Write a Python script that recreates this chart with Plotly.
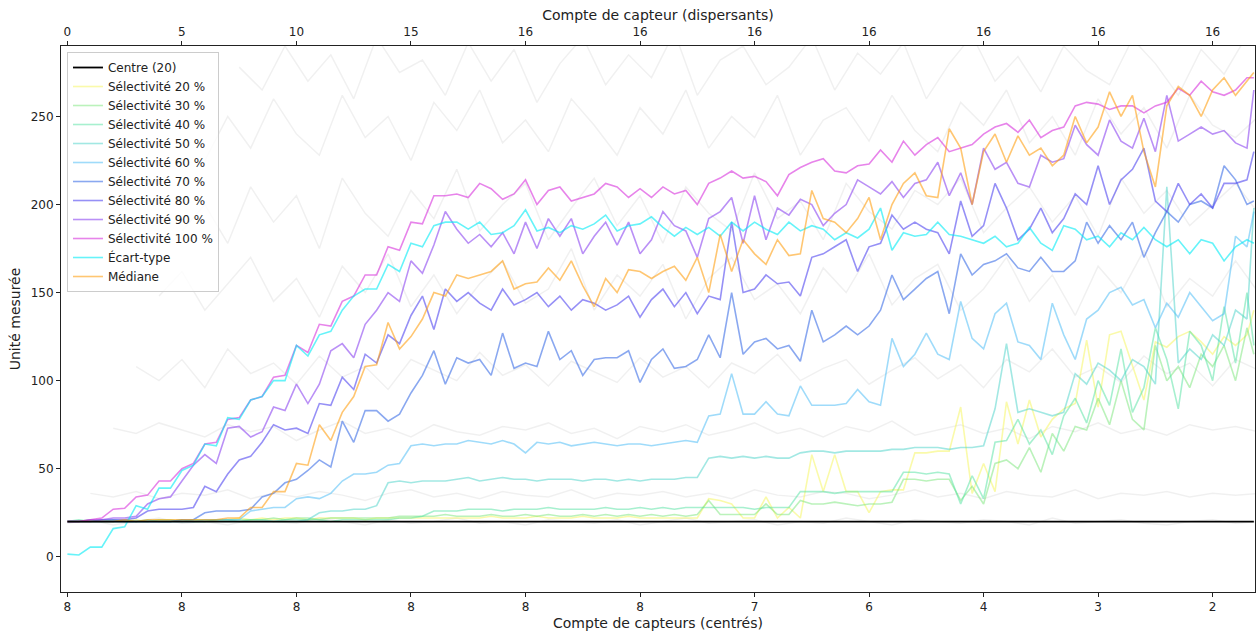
import plotly.graph_objects as go

# sample positions along the run (0.5 step); last sample sits on the right edge
x = [i * 0.5 for i in range(104)] + [51.8]

top_ticks = [0, 5, 10, 15, 20, 25, 30, 35, 40, 45, 50]
top_labels = ["0", "5", "10", "15", "16", "16", "16", "16", "16", "16", "16"]
bottom_labels = ["8", "8", "8", "8", "8", "8", "7", "6", "4", "3", "2"]

centre = [20] * len(x)

sel_20 = [20, 20, 20, 21, 20, 20, 21, 20, 21, 20, 21, 21, 20, 21, 21, 22, 21, 22, 21, 22,
          22, 21, 22, 22, 22, 22, 21, 22, 22, 22, 22, 22, 22, 22, 22, 22,
          22, 23, 22, 22, 22, 23, 22, 22, 22, 23, 22, 22, 22, 23, 22, 22, 22,
          22, 22, 22, 33, 32, 30, 22, 22, 34, 22, 28, 22, 58, 37, 58, 37, 37, 25,
          37, 38, 38, 59, 59, 60, 60, 85, 36, 53, 37, 88, 64, 89, 68, 78, 84,
          87, 123, 85, 126, 128, 108, 89, 122, 119, 125, 128, 122, 115, 125, 120, 126,
          140]
sel_30 = [20, 20, 21, 20, 20, 21, 20, 20, 21, 21, 20, 21, 21, 21, 21, 21, 21, 21, 22, 21,
          22, 22, 21, 22, 22, 22, 22, 22, 22, 23, 23, 23, 23, 24, 23, 23,
          23, 24, 23, 23, 24, 23, 24, 23, 23, 24, 23, 24, 23, 24, 23, 24, 23,
          24, 23, 24, 32, 24, 24, 24, 24, 30, 24, 24, 32, 30, 30, 31, 30, 29, 30,
          30, 31, 44, 44, 43, 44, 44, 32, 40, 30, 53, 55, 50, 62, 48, 70, 60,
          74, 72, 90, 75, 100, 78, 72, 120, 100, 108, 96, 115, 108, 120, 100, 130,
          115]
sel_40 = [20, 21, 20, 20, 21, 20, 20, 21, 20, 20, 21, 20, 20, 21, 21, 20, 21, 21, 20, 21,
          21, 21, 21, 20, 21, 21, 21, 21, 21, 22, 22, 23, 26, 26, 26, 27,
          27, 27, 26, 27, 27, 27, 28, 27, 27, 27, 27, 28, 27, 27, 28, 27, 28,
          27, 28, 28, 28, 28, 28, 28, 27, 28, 28, 28, 37, 37, 37, 36, 37, 37, 37,
          37, 37, 48, 48, 47, 48, 47, 30, 46, 33, 65, 66, 78, 64, 72, 58, 80,
          90, 76, 100, 86, 118, 82, 96, 130, 112, 84, 128, 120, 100, 142, 110, 150,
          120]
sel_50 = [20, 20, 20, 20, 20, 20, 20, 20, 20, 20, 20, 20, 20, 20, 20, 20, 20, 20, 20, 20,
          20, 21, 25, 26, 26, 27, 27, 29, 42, 43, 42, 43, 43, 43, 44, 45,
          43, 44, 45, 44, 44, 43, 44, 44, 44, 43, 44, 44, 43, 44, 43, 44, 44,
          44, 45, 45, 56, 57, 56, 57, 56, 57, 56, 56, 59, 60, 60, 59, 60, 60, 60,
          60, 61, 61, 62, 62, 62, 61, 62, 62, 63, 84, 121, 82, 84, 82, 80, 82,
          104, 98, 110, 106, 100, 112, 108, 98, 210, 110, 118, 112, 126, 120, 140, 135,
          198]
sel_60 = [20, 20, 20, 20, 20, 20, 20, 20, 20, 20, 20, 20, 21, 21, 21, 21, 26, 27, 28, 28,
          33, 34, 33, 36, 43, 47, 47, 48, 52, 53, 63, 64, 63, 64, 64, 66,
          65, 64, 66, 64, 59, 65, 64, 65, 63, 64, 65, 64, 63, 64, 64, 63, 64,
          65, 66, 65, 80, 81, 104, 81, 81, 88, 81, 80, 97, 86, 86, 86, 87, 95, 88,
          86, 124, 108, 115, 127, 115, 112, 145, 124, 118, 138, 144, 122, 120, 112, 144, 126,
          112, 135, 140, 150, 153, 143, 146, 130, 144, 136, 150, 142, 134, 138, 182, 176,
          196]
sel_70 = [20, 20, 20, 20, 20, 20, 20, 20, 20, 20, 21, 21, 25, 26, 26, 26, 27, 34, 36, 42,
          44, 49, 55, 51, 77, 65, 83, 83, 77, 81, 93, 103, 117, 98, 113, 110,
          112, 103, 127, 107, 110, 108, 128, 112, 117, 103, 112, 113, 113, 117, 99, 112, 118,
          107, 108, 112, 126, 113, 150, 115, 122, 124, 118, 120, 111, 140, 122, 126, 131, 126, 131,
          140, 160, 146, 152, 158, 162, 138, 172, 160, 166, 168, 172, 164, 162, 170, 162, 162,
          168, 190, 178, 188, 180, 190, 170, 184, 196, 190, 200, 202, 198, 222, 214, 200,
          202]
sel_80 = [20, 20, 20, 21, 21, 21, 22, 26, 27, 27, 27, 28, 40, 37, 47, 55, 57, 65, 75, 72,
          73, 70, 87, 86, 102, 95, 115, 110, 126, 121, 137, 148, 129, 152, 145, 150,
          144, 140, 152, 143, 146, 150, 142, 148, 140, 146, 144, 140, 143, 148, 136, 146, 152,
          142, 150, 138, 148, 146, 190, 150, 152, 160, 155, 156, 148, 170, 172, 176, 180, 162, 176,
          178, 194, 186, 190, 186, 184, 172, 202, 182, 188, 212, 198, 180, 186, 198, 184, 192,
          206, 200, 222, 200, 214, 220, 232, 202, 196, 212, 200, 206, 198, 212, 212, 214,
          230]
sel_90 = [20, 20, 21, 21, 22, 22, 23, 30, 33, 34, 43, 52, 58, 53, 73, 74, 68, 71, 85, 83,
          98, 87, 98, 117, 121, 113, 132, 140, 150, 145, 168, 161, 177, 196, 186, 178,
          183, 176, 184, 172, 190, 175, 192, 182, 192, 172, 182, 190, 177, 190, 172, 180, 196,
          188, 185, 170, 192, 196, 204, 178, 205, 180, 198, 194, 203, 200, 188, 195, 200, 214, 210,
          206, 213, 204, 212, 214, 224, 205, 218, 200, 232, 220, 224, 212, 210, 228, 224, 226,
          245, 234, 228, 248, 236, 232, 249, 230, 262, 236, 240, 244, 240, 242, 235, 232,
          265]
sel_100 = [20, 20, 21, 22, 27, 27.5, 34, 35, 43, 43, 50, 53, 64, 65, 78, 79, 89, 91, 102, 103,
           120, 116, 132, 131, 145, 148, 160, 160, 176, 174, 190, 189, 205, 205, 206, 204,
           212, 209, 203, 206, 214, 200, 208, 210, 202, 204, 206, 212, 210, 204, 209, 204, 210,
           206, 208, 200, 212, 215, 219, 215, 216, 213, 205, 217, 221, 224, 226, 219, 218, 222, 223,
           231, 224, 236, 228, 234, 238, 230, 232, 234, 240, 244, 246, 241, 248, 238, 242, 244,
           256, 258, 257, 254, 256, 256, 252, 256, 258, 266, 262, 270, 264, 262, 265, 272,
           272]
ecart_type = [1.5, 1, 5.5, 5.5, 16, 17, 29, 27, 39, 39, 49, 52, 64, 63, 79, 78, 89, 91, 100, 100,
              120, 114, 126, 128, 140, 148, 152, 152, 166, 162, 178, 176, 188, 190, 190, 186,
              190, 183, 184, 188, 197, 185, 187, 184, 188, 186, 189, 194, 185, 188, 189, 193, 187,
              182, 187, 183, 187, 182, 190, 185, 190, 186, 183, 190, 185, 188, 186, 180, 184, 181, 186,
              198, 174, 184, 182, 183, 190, 183, 182, 180, 178, 182, 176, 178, 187, 178, 174, 188,
              186, 180, 182, 176, 184, 180, 187, 180, 176, 180, 172, 180, 178, 168, 176, 180,
              178]
mediane = [20, 20, 20, 20, 20, 21, 20, 21, 21, 21, 21, 21, 21, 21, 22, 22, 28, 28, 37, 37,
           53, 52, 75, 66, 82, 91, 108, 109, 133, 118, 125, 135, 150, 148, 160, 158,
           160, 162, 168, 152, 155, 156, 164, 157, 168, 154, 142, 158, 150, 163, 162, 158, 162,
           165, 157, 170, 150, 183, 162, 180, 172, 166, 180, 171, 172, 208, 192, 190, 184, 192, 204,
           180, 200, 212, 218, 205, 204, 243, 232, 200, 230, 240, 224, 239, 228, 232, 222, 228,
           250, 235, 244, 264, 250, 262, 230, 210, 256, 267, 262, 250, 265, 272, 262, 270,
           275]

# faint individual sensor runs in the background: (first x, values at 1.0 step)
bg_runs = [
    (0, [19, 21, 18, 20, 22, 19, 20, 18, 21, 20, 19, 22, 20, 18, 21, 19, 20, 22, 19, 20, 18, 21,
         20, 19, 21, 18, 20, 22, 19, 20, 21, 18, 20, 19, 22, 20, 18, 21, 20, 19, 21, 20, 18, 22,
         19, 20, 21, 19, 18, 20, 21, 19, 20]),
    (1, [36, 34, 37, 33, 36, 35, 38, 33, 36, 34, 37, 35, 32, 36, 38, 34, 36, 33, 37, 35, 34, 38,
         33, 36, 35, 37, 34, 36, 33, 38, 35, 34, 37, 36, 33, 35, 38, 34, 36, 33, 37, 35, 34, 38,
         33, 36, 35, 37, 34, 36, 35, 36]),
    (2, [73, 70, 76, 72, 68, 75, 71, 74, 66, 72, 77, 70, 73, 68, 75, 71, 69, 74, 72, 76, 70, 73,
         67, 74, 71, 75, 69, 72, 76, 70, 73, 68, 74, 71, 77, 69, 72, 75, 70, 73, 67, 74, 71, 76,
         70, 73, 69, 75, 72, 74, 71]),
    (3, [108, 100, 112, 96, 118, 104, 110, 98, 114, 102, 108, 95, 112, 106, 100, 116, 103, 109,
         97, 111, 105, 99, 113, 102, 108, 96, 110, 104, 115, 100, 107, 112, 98, 106, 113, 101,
         109, 96, 112, 105, 118, 102, 108, 99, 114, 104, 110, 97, 112, 106]),
    (4, [148, 162, 140, 155, 170, 145, 158, 136, 165, 150, 172, 142, 160, 138, 155, 168, 144,
         152, 175, 140, 160, 148, 166, 135, 158, 170, 146, 155, 138, 164, 150, 172, 143, 158,
         166, 140, 152, 170, 145, 160, 137, 165, 150, 174, 142, 158, 148, 168, 150]),
    (5, [185, 200, 178, 210, 190, 205, 175, 215, 195, 182, 208, 192, 220, 185, 200, 212, 180,
         198, 215, 188, 205, 178, 210, 195, 185, 218, 192, 202, 180, 212, 196, 186, 208, 200,
         215, 184, 198, 210, 190, 205, 182, 215, 195, 208, 188, 200, 212, 195]),
    (6, [225, 250, 232, 260, 240, 228, 262, 238, 250, 225, 258, 242, 265, 235, 248, 230, 260,
         245, 228, 255, 240, 265, 232, 250, 238, 262, 228, 248, 255, 236, 262, 242, 230, 258,
         245, 265, 235, 250, 228, 260, 240, 255, 232, 262, 245, 238, 250]),
    (7.5, [278, 265, 290, 270, 285, 260, 295, 275, 282, 262, 292, 270, 288, 258, 280, 295, 268,
           285, 272, 298, 262, 282, 290, 268, 278, 295, 265, 286, 274, 292, 260, 280, 296, 270,
           284, 264, 290, 276, 268, 294, 280, 262, 288, 274, 296]),
]

series = [
    ("Sélectivité 20 %", sel_20, "rgba(245,245,100,0.55)"),
    ("Sélectivité 30 %", sel_30, "rgba(120,230,120,0.5)"),
    ("Sélectivité 40 %", sel_40, "rgba(80,225,160,0.5)"),
    ("Sélectivité 50 %", sel_50, "rgba(70,210,200,0.5)"),
    ("Sélectivité 60 %", sel_60, "rgba(80,190,245,0.55)"),
    ("Sélectivité 70 %", sel_70, "rgba(60,110,230,0.6)"),
    ("Sélectivité 80 %", sel_80, "rgba(80,70,240,0.6)"),
    ("Sélectivité 90 %", sel_90, "rgba(140,70,240,0.6)"),
    ("Sélectivité 100 %", sel_100, "rgba(215,50,220,0.6)"),
    ("Écart-type", ecart_type, "rgba(0,235,245,0.6)"),
    ("Médiane", mediane, "rgba(255,160,20,0.6)"),
]

fig = go.Figure()

for start, vals in bg_runs:
    fig.add_trace(go.Scatter(
        x=[start + i for i in range(len(vals))], y=vals, mode="lines",
        line=dict(color="rgba(0,0,0,0.06)", width=1.5),
        showlegend=False, hoverinfo="skip",
    ))

for rank, (name, vals, color) in enumerate(series, start=2):
    assert len(vals) == len(x), (name, len(vals))
    fig.add_trace(go.Scatter(
        x=x, y=vals, mode="lines", name=name,
        line=dict(color=color, width=1.6), legendrank=rank,
    ))

# centre line drawn last, on the top axis so that axis gets rendered
fig.add_trace(go.Scatter(
    x=x, y=centre, mode="lines", name="Centre (20)", xaxis="x2",
    line=dict(color="black", width=1.8), legendrank=1,
))

XR = [-0.28, 51.85]
axis_common = dict(
    showgrid=False, zeroline=False, showline=True, linecolor="#222", linewidth=1,
    ticks="outside", ticklen=4, tickcolor="#222",
)

fig.update_layout(
    width=1257, height=632,
    margin=dict(l=61, r=2, t=46, b=40),
    paper_bgcolor="white", plot_bgcolor="white",
    font=dict(family="DejaVu Sans", size=12, color="#222"),
    showlegend=True,
    xaxis=dict(range=XR, tickvals=top_ticks, ticktext=bottom_labels,
               title=dict(text="Compte de capteurs (centrés)", standoff=4), **axis_common),
    xaxis2=dict(range=XR, overlaying="x", side="top", tickvals=top_ticks, ticktext=top_labels,
                title=dict(text="Compte de capteur (dispersants)", standoff=1), **axis_common),
    yaxis=dict(range=[-20, 290], tickvals=[0, 50, 100, 150, 200, 250], mirror=True,
               title=dict(text="Unité mesurée", standoff=6), **axis_common),
    legend=dict(x=0.005, y=0.989, xanchor="left", yanchor="top",
                bgcolor="rgba(255,255,255,0.8)", bordercolor="#cccccc", borderwidth=1,
                font=dict(size=12), traceorder="normal"),
)

fig.write_html("out.html", config={"displayModeBar": False},
               post_script="document.body.style.margin='0';")
